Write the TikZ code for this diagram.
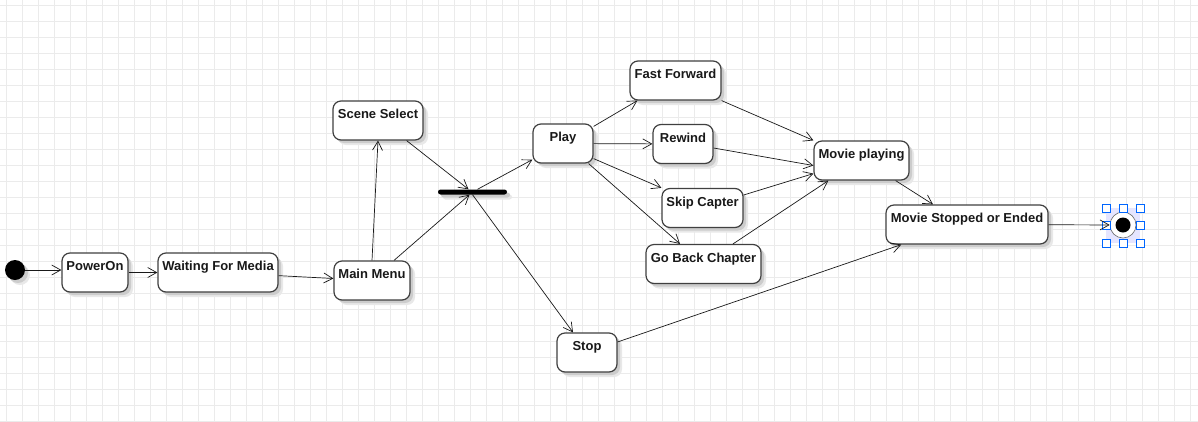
\documentclass[tikz,border=0pt]{standalone}
\usepackage{fontspec}
\setmainfont{Liberation Sans}
\usetikzlibrary{arrows.meta}

\begin{document}
\begin{tikzpicture}[x=1pt,y=-1pt,
	soft_shadow/.style={preaction={fill=black!9,transform canvas={shift={(5pt,-5pt)}}},
		preaction={fill=black!20,transform canvas={shift={(3pt,-3pt)}}}},
	state_node/.style={rectangle,rounded corners=8pt,draw=black!75,line width=1.2pt,fill=white,soft_shadow,
		font=\fontsize{13}{15}\selectfont\bfseries,text=black!90,
		text height=9.5pt,text depth=13.5pt,inner ysep=8pt,inner xsep=2pt,minimum height=39pt},
	flow/.style={draw=black!90,line width=0.7pt,-{Straight Barb[length=9pt,width=10pt]}}]

		% page with the editor grid
		\useasboundingbox[fill=white] (0,0) rectangle (1198,421);
		\begin{scope}
			\clip (0,0) rectangle (1198,421);
			\draw[black!8,line width=0.6pt,step=16pt,shift={(6,5)}] (-16,432) grid (1200,-16);
		\end{scope}

		% initial and final states
		\node[circle,fill=black,minimum size=20pt,inner sep=0pt,soft_shadow] (start) at (15,270){};
		\fill[blue!10] (1106,208) rectangle (1140,243);
		\node[circle,draw=black!60,fill=white,line width=0.6pt,minimum size=26pt,inner sep=0pt] (end) at (1123,225){};
		\node[circle,fill=black,minimum size=15pt,inner sep=0pt] at (end){};
		% selection handles round the final state
		\foreach \hx/\hy in {1106/208,1123/208,1140/208,1106/225,1140/225,1106/243,1123/243,1140/243}
			\draw[blue!60!cyan,fill=white,line width=0.5pt] (\hx-3.75,\hy-3.75) rectangle (\hx+3.75,\hy+3.75);

		\node[state_node,minimum width=66pt] (power) at (95,272.5){PowerOn};
		\node[state_node,minimum width=120pt] (wait) at (218,272.5){Waiting For Media};
		\node[state_node,minimum width=76pt] (menu) at (372,280.5){Main Menu};
		\node[state_node,minimum width=90pt] (scene) at (378,120.5){Scene Select};
		% fork bar
		\node[rectangle,fill=black,rounded corners=2.5pt,minimum width=69pt,minimum height=5pt,inner sep=0pt,soft_shadow] (fork) at (472.5,192){};
		\node[state_node,minimum width=60pt] (play) at (563,143.5){Play};
		\node[state_node,minimum width=91pt] (ff) at (675.5,80.5){Fast Forward};
		\node[state_node,minimum width=60pt] (rewind) at (683,144){Rewind};
		\node[state_node,minimum width=81pt] (skip) at (702.5,208){Skip Capter};
		\node[state_node,minimum width=115pt] (goback) at (703.5,264){Go Back Chapter};
		\node[state_node,minimum width=95pt] (mp) at (861.5,160.5){Movie playing};
		\node[state_node,minimum width=60pt] (stop) at (587,352.5){Stop};
		\node[state_node,minimum width=162pt] (stopped) at (967,224.5){Movie Stopped or Ended};

		\path[every edge/.style={flow}]
		(start) edge (start -| power.west)
		(power) edge (wait)
		(wait) edge (menu)
		(menu.north) edge (scene.south)
		([xshift=22pt]menu.north) edge ([xshift=-3pt]fork.south)
		([xshift=-17pt]scene.south east) edge ([xshift=-4pt]fork.north)
		([xshift=5pt]fork.north) edge ([yshift=4pt]play.south west)
		(fork.south) edge ([xshift=-14pt]stop.north)
		% out of Play
		([yshift=-3pt]play.north east) edge ([xshift=8pt]ff.south west)
		(play) edge (rewind)
		([yshift=5pt]play.south east) edge (skip.north west)
		([xshift=-5pt]play.south east) edge ([xshift=-23.5pt]goback.north)
		% into Movie playing
		(ff.south east) edge (mp.north west)
		([yshift=-4pt]rewind.east) edge ([yshift=-5pt]mp.west)
		([yshift=13pt]skip.east) edge ([yshift=7pt]mp.south west)
		([xshift=29.5pt]goback.north) edge ([xshift=15pt]mp.south west)
		% to the end
		([xshift=-14pt]mp.south east) edge ([xshift=-34pt]stopped.north)
		(stop.19) edge (stopped.197)
		(stopped) edge (end)
		;

	\end{tikzpicture}
\end{document}
